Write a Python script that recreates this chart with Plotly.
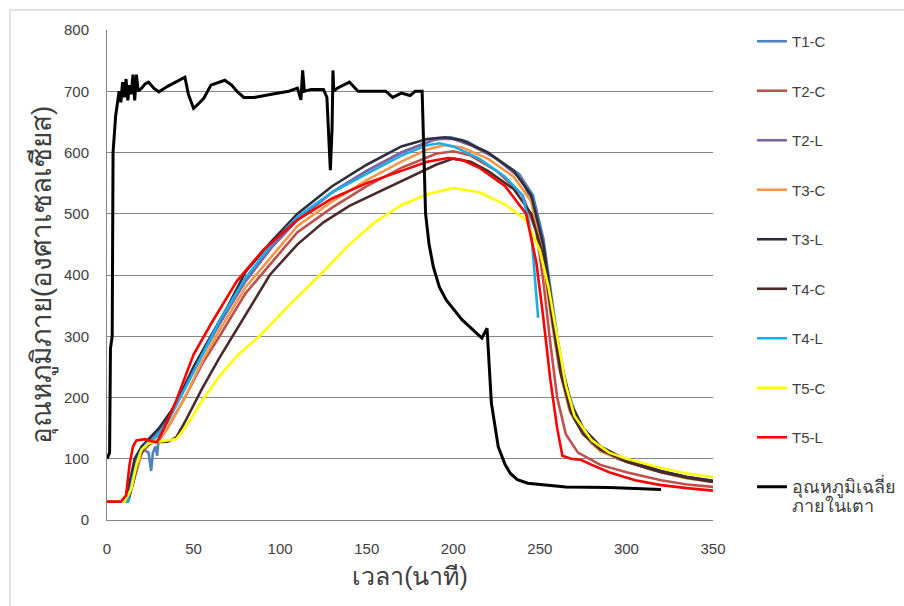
import plotly.graph_objects as go

# ---------------- data ----------------
t1c_t = [0, 12, 15, 18, 21, 24, 25.5, 26.5, 28, 29, 30, 35, 45, 55, 65, 80, 95, 110, 130, 150, 170, 188, 198, 208, 222, 238, 246, 252, 256, 260, 265, 272, 282, 295, 315, 335, 350]
t1c_v = [30, 30, 60, 95, 115, 110, 80, 110, 120, 105, 140, 165, 220, 275, 325, 390, 445, 490, 535, 570, 600, 620, 625, 618, 595, 565, 530, 460, 380, 300, 220, 160, 120, 100, 82, 70, 64]

t2c_t = [0, 12, 16, 20, 25, 30, 35, 45, 55, 65, 80, 95, 110, 130, 150, 170, 190, 200, 210, 225, 240, 248, 252, 256, 260, 265, 272, 285, 300, 320, 335, 350]
t2c_v = [30, 30, 70, 110, 125, 130, 150, 200, 255, 300, 370, 420, 470, 510, 545, 575, 598, 602, 595, 570, 530, 470, 390, 290, 200, 140, 110, 90, 78, 65, 58, 54]

t2l_t = [0, 11, 14, 18, 22, 28, 35, 45, 55, 65, 80, 95, 110, 130, 150, 170, 190, 200, 210, 225, 240, 248, 253, 258, 263, 270, 280, 295, 315, 335, 350]
t2l_v = [30, 30, 70, 105, 125, 140, 165, 215, 270, 320, 390, 445, 490, 535, 570, 600, 622, 622, 612, 590, 555, 500, 420, 320, 230, 165, 125, 100, 82, 70, 63]

t3c_t = [0, 12, 16, 20, 24, 30, 35, 45, 55, 65, 80, 95, 110, 130, 150, 170, 185, 195, 205, 220, 235, 245, 251, 256, 261, 267, 275, 285, 300, 320, 335, 350]
t3c_v = [30, 30, 75, 110, 125, 132, 150, 200, 260, 310, 380, 430, 480, 520, 555, 585, 605, 612, 608, 590, 560, 520, 440, 340, 250, 180, 140, 112, 95, 78, 68, 62]

t3l_t = [0, 10, 13, 16, 20, 25, 30, 40, 50, 60, 70, 80, 95, 110, 130, 150, 170, 185, 195, 205, 220, 235, 245, 252, 257, 262, 268, 275, 285, 300, 320, 335, 350]
t3l_v = [30, 30, 60, 100, 120, 135, 150, 190, 250, 300, 350, 405, 455, 500, 545, 580, 610, 622, 625, 620, 600, 570, 530, 450, 350, 260, 190, 150, 120, 98, 80, 70, 64]

t4c_t = [0, 12, 15, 18, 22, 27, 35, 40, 45, 55, 65, 80, 94, 110, 125, 140, 160, 175, 190, 200, 210, 220, 235, 245, 252, 257, 262, 268, 275, 285, 300, 320, 335, 350]
t4c_v = [30, 30, 60, 100, 120, 127, 128, 135, 160, 215, 265, 335, 400, 450, 486, 513, 540, 560, 580, 590, 585, 570, 540, 500, 430, 330, 240, 175, 140, 115, 95, 78, 69, 62]

t4l_t = [0, 12, 15, 19, 23, 28, 35, 45, 55, 65, 80, 95, 110, 130, 150, 170, 185, 192, 200, 215, 230, 240, 245, 249]
t4l_v = [30, 30, 70, 110, 125, 135, 160, 215, 270, 325, 395, 450, 495, 535, 565, 595, 612, 615, 610, 590, 560, 530, 470, 330]

t5c_t = [0, 10, 14, 17, 20, 24, 30, 36, 40, 45, 55, 65, 75, 88, 105, 123, 140, 155, 170, 185, 200, 215, 230, 242, 250, 255, 260, 265, 270, 280, 290, 300, 320, 335, 350]
t5c_v = [30, 30, 50, 90, 115, 125, 128, 130, 132, 150, 195, 235, 268, 300, 350, 400, 450, 487, 514, 532, 542, 535, 515, 490, 440, 380, 300, 220, 170, 130, 110, 100, 85, 76, 70]

t5l_t = [0, 8, 11, 13, 15, 17, 22, 26, 29, 33, 40, 50, 60, 75, 90, 110, 130, 150, 170, 185, 197, 205, 215, 230, 242, 248, 252, 256, 260, 263, 268, 274, 280, 290, 305, 320, 335, 350]
t5l_v = [30, 30, 40, 90, 120, 130, 132, 128, 127, 150, 195, 270, 320, 390, 440, 490, 525, 550, 570, 585, 591, 588, 575, 545, 500, 420, 330, 230, 150, 105, 100, 98, 90, 78, 65, 57, 52, 48]

avg_t = [0, 1.5, 2, 3, 3.5, 5, 6, 6.5, 7, 8, 9, 10, 11, 12, 13, 14, 15, 16, 17, 18, 20, 22, 24, 27, 30, 35, 40, 45, 47, 50, 53, 56, 60, 65, 68, 72, 75, 79, 85, 95, 105, 110, 112, 113, 114, 118, 125, 127, 128, 129, 130, 130.5, 131, 133, 140, 143, 145, 155, 161, 165, 170, 175, 178, 182, 183, 184, 186, 188.5, 192, 196, 205, 216.5, 219.5, 220, 222, 226, 230, 233, 237, 243, 255, 265, 290, 320]
avg_v = [100, 110, 280, 300, 600, 660, 680, 690, 700, 682, 715, 690, 720, 685, 710, 695, 727, 685, 727, 700, 705, 712, 715, 705, 699, 708, 715, 723, 695, 672, 680, 689, 710, 715, 718, 710, 700, 690, 690, 695, 700, 705, 686, 734, 700, 703, 703, 690, 620, 571, 640, 734, 700, 705, 715, 705, 700, 700, 700, 690, 697, 693, 700, 700, 600, 500, 450, 413, 380, 359, 327, 297, 313, 290, 191, 119, 90, 76, 66, 60, 57, 54, 53, 50]

names = ["T1-C", "T2-C", "T2-L", "T3-C", "T3-L", "T4-C", "T4-L", "T5-C", "T5-L",
         "อุณหภูมิเฉลี่ย<br>ภายในเตา"]
xs = [t1c_t, t2c_t, t2l_t, t3c_t, t3l_t, t4c_t, t4l_t, t5c_t, t5l_t, avg_t]
ys = [t1c_v, t2c_v, t2l_v, t3c_v, t3l_v, t4c_v, t4l_v, t5c_v, t5l_v, avg_v]
colors = ["#4F81BD", "#C0504D", "#8064A2", "#F79646", "#2E2E3C", "#4A2A2A",
          "#1AADEB", "#FFFF00", "#FF0000", "#000000"]

x_ticks = [0, 50, 100, 150, 200, 250, 300, 350]
y_ticks = [0, 100, 200, 300, 400, 500, 600, 700, 800]

# ---------------- figure ----------------
W, H = 904, 606
L, R, T, B = 107, 713, 30, 520

fig = go.Figure()
for i in range(len(names)):
    label = names[i]
    if i == 9:
        label = '<span style="font-size:18px">' + names[i].replace("<br>", "</span><br><span style=\"font-size:18px\">") + "</span>"
    fig.add_trace(go.Scatter(
        x=xs[i], y=ys[i], mode="lines", name=label,
        line=dict(color=colors[i], width=3 if i == 9 else 2.6),
        legendgroup=f"g{i}",
    ))

FONT = "Liberation Sans, Noto Sans, sans-serif"
fig.update_layout(
    width=W, height=H,
    margin=dict(l=L, r=W - R, t=T, b=H - B, autoexpand=False),
    paper_bgcolor="white", plot_bgcolor="white",
    font=dict(family=FONT, size=13, color="#404040"),
    showlegend=True,
    legend=dict(
        x=(752 - L) / (R - L), y=(B - 25) / (B - T), xanchor="left", yanchor="top",
        traceorder="grouped", tracegroupgap=27, valign="top",
        font=dict(size=15, color="#404040"), bgcolor="rgba(0,0,0,0)",
        itemwidth=30, maxheight=600,
    ),
    xaxis=dict(
        range=[0, 350], tickvals=x_ticks, showgrid=False, zeroline=False,
        showline=True, linecolor="#868686", linewidth=1,
        ticks="", ticklabelstandoff=15,
        tickfont=dict(size=15, color="#404040"),
        title=dict(text="เวลา(นาที)", font=dict(size=25, color="#404040"), standoff=11),
    ),
    yaxis=dict(
        range=[0, 800], tickvals=y_ticks, showgrid=True, gridcolor="#868686", gridwidth=1,
        zeroline=False, showline=True, linecolor="#868686", linewidth=1,
        ticks="", ticklabelstandoff=14, tickfont=dict(size=15, color="#404040"),
        title=dict(text="อุณหภูมิภาย(องศาเซลเซียส)", font=dict(size=28, color="#404040"), standoff=4),
    ),
    shapes=[dict(
        type="rect", xref="paper", yref="paper",
        x0=(10 - L) / (R - L), x1=(930 - L) / (R - L),
        y0=(B - 640) / (B - T), y1=(B - 10) / (B - T),
        line=dict(color="#C8C8C8", width=1), fillcolor="rgba(0,0,0,0)", layer="below",
    )],
)

fig.write_html("out.html", config={"displayModeBar": False},
               post_script="document.body.style.margin='0';document.body.style.overflow='hidden';")
